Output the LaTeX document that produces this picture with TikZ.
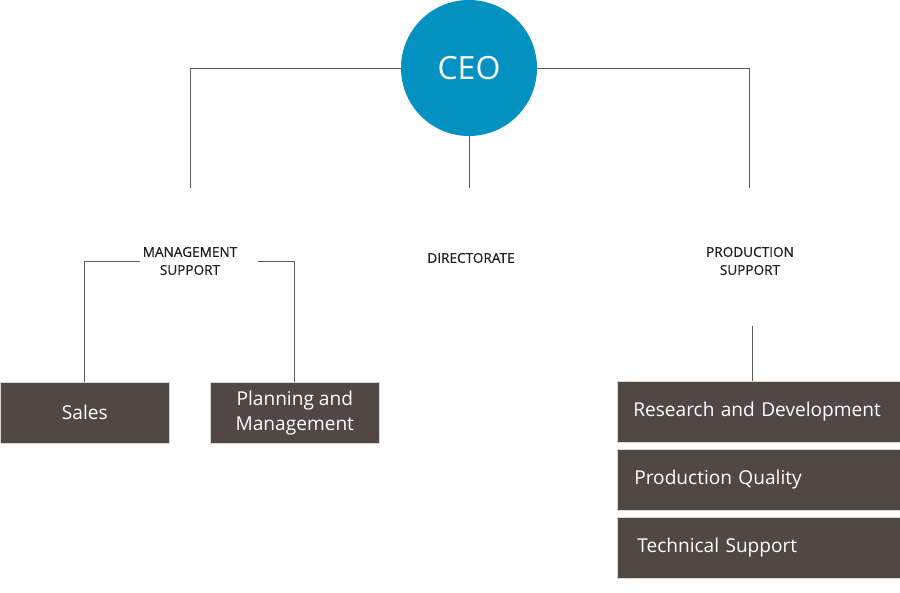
\documentclass[tikz,border=0pt]{standalone}
\usepackage{fontspec}
\setmainfont{Open Sans}
\newfontfamily\grouplabelfont[FakeBold=0.8]{Open Sans}
\definecolor{ceoblue}{HTML}{0391C2}
\definecolor{boxfill}{HTML}{4F4845}
\definecolor{boxedge}{HTML}{D8D6D5}
\definecolor{linegray}{HTML}{5E5A59}
\definecolor{labeltext}{HTML}{231F20}
\tikzset{
  conn/.style={draw=linegray, line width=0.9pt},
  unitbox/.style={fill=boxfill, draw=boxedge, line width=0.6pt, text=white,
    font=\fontsize{19.1}{25}\selectfont, inner sep=0pt},
  grouplabel/.style={text=labeltext, font=\grouplabelfont\fontsize{13.6}{18}\selectfont, align=center, inner sep=0pt},
}
\begin{document}
\begin{tikzpicture}[x=1pt,y=-1pt]
\useasboundingbox (0,0) rectangle (900,592);
% CEO
\node[circle, fill=ceoblue, minimum size=136pt, inner sep=0pt, text=white,
  font=\fontsize{32}{36}\selectfont] (ceo) at (469,68) {CEO};
% group labels
\node[grouplabel] (ms) at (190,261) {MANAGEMENT\\SUPPORT};
\node[grouplabel] (dir) at (471,258) {DIRECTORATE};
\node[grouplabel] (ps) at (750,261) {PRODUCTION\\SUPPORT};
% connector end points
\coordinate (msT) at (190,188);
\coordinate (dirT) at (469,188);
\coordinate (psT) at (749,188);
\coordinate (msL) at (140,261);
\coordinate (msR) at (258,261);
\coordinate (psB) at (752,326);
% boxes
\node[unitbox, anchor=north west, minimum width=169pt, minimum height=61pt] (sales) at (0,382) {Sales};
\node[unitbox, anchor=north west, minimum width=169pt, minimum height=61pt, align=center] (plan) at (210,382) {\raisebox{-1.5pt}{\parbox{140pt}{\centering Planning and\\Management}}};
\node[unitbox, anchor=north west, minimum width=283pt, minimum height=61pt, text width=267pt, inner xsep=16pt, align=left] (rd) at (617,381) {Research and Development};
\node[unitbox, anchor=north west, minimum width=283pt, minimum height=61pt, text width=266pt, inner xsep=17pt, align=left] (pq) at (617,449) {\raisebox{-2pt}{Production Quality}};
\node[unitbox, anchor=north west, minimum width=283pt, minimum height=61pt, text width=263pt, inner xsep=20pt, align=left] (ts) at (617,517) {\raisebox{-1.5pt}{Technical Support}};
% connectors
\draw[conn] (ceo.west) -| (msT);
\draw[conn] (ceo.east) -| (psT);
\draw[conn] (ceo.south) -- (dirT);
\draw[conn] (msL) -| (sales.north);
\draw[conn] (msR) -| (plan.north);
\draw[conn] (psB) -- (psB |- rd.north);
\end{tikzpicture}
\end{document}
